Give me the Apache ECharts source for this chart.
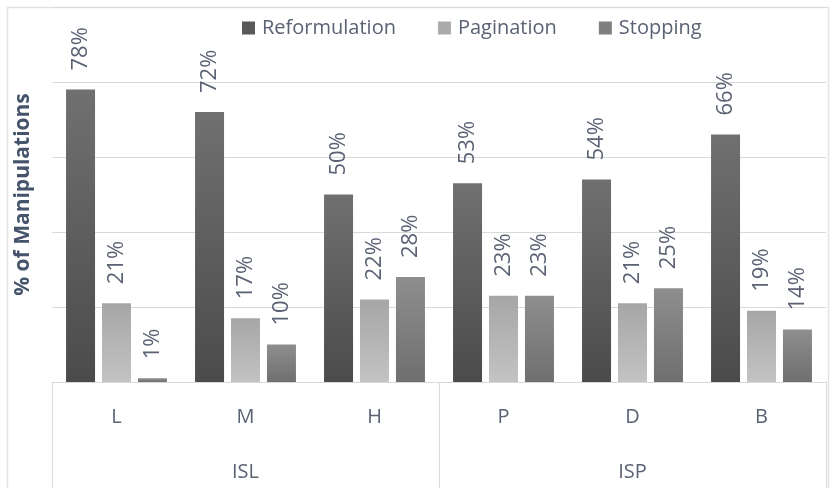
<!DOCTYPE html>
<html>
<head>
<meta charset="utf-8">
<script src="https://cdn.jsdelivr.net/npm/echarts@6/dist/echarts.min.js"></script>
<style>
html, body { margin: 0; padding: 0; background: #fff; }
#box1 { width: 832px; height: 488px; }
</style>
</head>
<body>
<div id="box1"></div>
<script>
const aCats = ['L', 'M', 'H', 'P', 'D', 'B'];
const aGroups = ['ISL', 'ISP'];
const aReformulation = [78, 72, 50, 53, 54, 66];
const aPagination = [21, 17, 22, 23, 21, 19];
const aStopping = [1, 10, 28, 23, 25, 14];

const sFont = 'Open Sans';
const sTextColor = '#5a6274';
const sLineColor = '#d9d9d9';

// ▼竖直渐变
function vGrad(sTop, sBottom){
    return {
        type: 'linear', x: 0, y: 0, x2: 0, y2: 1,
        colorStops: [{ offset: 0, color: sTop }, { offset: 1, color: sBottom }],
    };
}

const oLabel = {
    show: true,
    position: 'top',
    rotate: 90,
    align: 'left',
    verticalAlign: 'middle',
    distance: 19,
    formatter: '{c}%',
    fontFamily: sFont,
    fontSize: 22,
    color: sTextColor,
};

function makeSeries(name, data, oColor){
    return {
        name,
        type: 'bar',
        data,
        barWidth: 29,
        barGap: '24%',
        xAxisIndex: 0,
        label: oLabel,
        itemStyle: { color: oColor },
        emphasis: { disabled: true },
    };
}

const myChart = echarts.init(document.getElementById('box1'));
const option = {
    animation: false,
    backgroundColor: '#fff',
    grid: { left: 52, right: 6, top: 7, bottom: 106, containLabel: false, outerBoundsMode: 'none' },
    legend: {
        left: 237,
        top: 13,
        itemWidth: 13,
        itemHeight: 13,
        itemGap: 42,
        icon: 'rect',
        textStyle: { fontFamily: sFont, fontSize: 20, color: sTextColor, padding: [0, 0, 0, 2] },
        data: [
            { name: 'Reformulation', itemStyle: { color: '#595959' } },
            { name: 'Pagination', itemStyle: { color: '#ababab' } },
            { name: 'Stopping', itemStyle: { color: '#7f7f7f' } },
        ],
    },
    xAxis: [{
        type: 'category',
        data: aCats,
        position: 'bottom',
        axisLine: { lineStyle: { color: sLineColor, width: 1 } },
        axisTick: { show: false },
        axisLabel: { margin: 25, fontFamily: sFont, fontSize: 20, color: sTextColor },
    }, {
        type: 'category',
        data: aGroups,
        position: 'bottom',
        axisLine: { show: false },
        axisTick: { show: true, length: 120, interval: 0, lineStyle: { color: sLineColor } },
        axisLabel: { margin: 80, fontFamily: sFont, fontSize: 20, color: sTextColor },
    }],
    yAxis: {
        type: 'value',
        min: 0,
        max: 100,
        interval: 20,
        name: '% of Manipulations',
        nameLocation: 'middle',
        nameGap: 18,
        nameTextStyle: { fontFamily: sFont, fontSize: 21, fontWeight: 'bold', color: '#45536b' },
        axisLabel: { show: false },
        axisLine: { show: false },
        axisTick: { show: false },
        splitLine: { lineStyle: { color: sLineColor } },
    },
    graphic: [{
        type: 'rect',
        left: 5, top: 5,
        shape: { width: 821, height: 520 },
        style: { fill: 'none', stroke: '#e2e2e2', lineWidth: 1.5 },
        silent: true,
    }],
    series: [
        makeSeries('Reformulation', aReformulation, vGrad('#707070', '#4b4b4b')),
        makeSeries('Pagination', aPagination, vGrad('#a6a6a6', '#c3c3c3')),
        makeSeries('Stopping', aStopping, vGrad('#8e8e8e', '#6f6f6f')),
    ],
};
myChart.setOption(option);
</script>
</body>
</html>
